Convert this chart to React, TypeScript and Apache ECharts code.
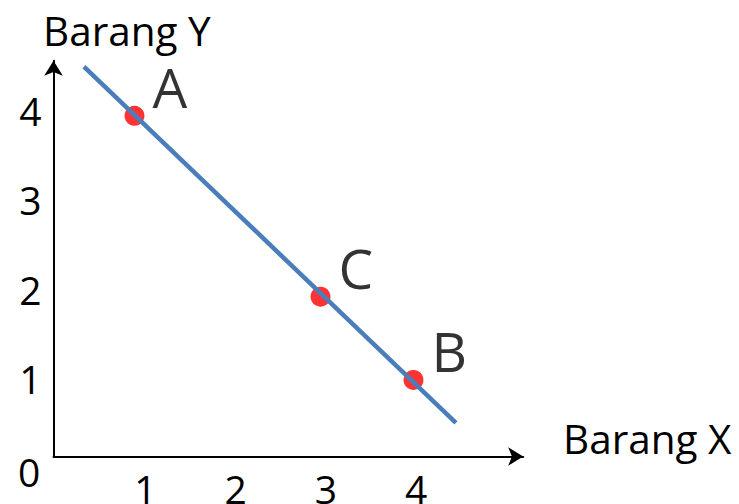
import React, { useEffect, useRef } from "react";
import * as echarts from "echarts";

// Tick labels on both axes
const xTicks = [1, 2, 3, 4];
const yTicks = [1, 2, 3, 4];

// Budget line (two end points)
const lineX = [0.32, 4.44];
const lineY = [4.49, 0.51];

// Consumption points on the line
const pointNames = ["A", "C", "B"];
const pointX = [0.88, 2.94, 3.97];
const pointY = [3.94, 1.92, 0.99];

// Axis titles
const xTitle = "Barang X";
const yTitle = "Barang Y";
const originLabel = "0";

const FONT = "'Open Sans', Lato, sans-serif";

export default function App() {
  const ref = useRef<HTMLDivElement>(null);

  useEffect(() => {
    if (!ref.current) return;
    const chart = echarts.init(ref.current, undefined, { renderer: "svg" });

    const option: any = {
      animation: false,
      backgroundColor: "#ffffff",
      grid: {
        left: 53.5,
        right: 215.8,
        top: 60.8,
        bottom: 47.5,
        outerBoundsMode: "none",
      },
      xAxis: {
        type: "value",
        min: -0.017,
        max: 5.185,
        splitLine: { show: false },
        axisTick: { show: false },
        axisLine: {
          onZero: false,
          symbol: ["none", "arrow"],
          symbolSize: [14, 15],
          lineStyle: { color: "#000", width: 2 },
        },
        axisLabel: {
          customValues: xTicks,
          color: "#000",
          fontFamily: FONT,
          fontSize: 39,
          lineHeight: 30,
          margin: 16.5,
        },
      },
      yAxis: {
        type: "value",
        min: 0.134,
        max: 4.555,
        splitLine: { show: false },
        axisTick: { show: false },
        axisLine: {
          onZero: false,
          symbol: ["none", "arrow"],
          symbolSize: [14, 15],
          lineStyle: { color: "#000", width: 2 },
        },
        axisLabel: {
          customValues: yTicks,
          color: "#000",
          fontFamily: FONT,
          fontSize: 39,
          margin: 12,
        },
      },
      series: [
        {
          type: "line",
          data: lineX.map((x, i) => [x, lineY[i]]),
          showSymbol: false,
          lineStyle: { color: "#4a7ebb", width: 4.5 },
          silent: true,
        },
        {
          type: "scatter",
          data: pointNames.map((n, i) => ({ name: n, value: [pointX[i], pointY[i]] })),
          symbolSize: 20,
          itemStyle: { color: "#ff0000" },
          label: {
            show: true,
            formatter: "{b}",
            position: "right",
            distance: 8,
            offset: [0, -29],
            color: "#000",
            fontFamily: FONT,
            fontSize: 55,
            lineHeight: 44,
          },
        },
      ],
      graphic: [
        {
          type: "text",
          left: 43,
          top: 8,
          style: { text: yTitle, fontFamily: FONT, fontSize: 40.5, lineHeight: 44, fill: "#000" },
        },
        {
          type: "text",
          left: 563,
          top: 416,
          style: { text: xTitle, fontFamily: FONT, fontSize: 40.5, lineHeight: 44, fill: "#000" },
        },
        {
          type: "text",
          left: 18,
          top: 452,
          style: { text: originLabel, fontFamily: FONT, fontSize: 39, fill: "#000" },
        },
      ],
    };

    chart.setOption(option);
    return () => chart.dispose();
  }, []);

  return (
    <div
      ref={ref}
      style={{ position: "fixed", left: 0, top: 0, width: 739, height: 504 }}
    />
  );
}
